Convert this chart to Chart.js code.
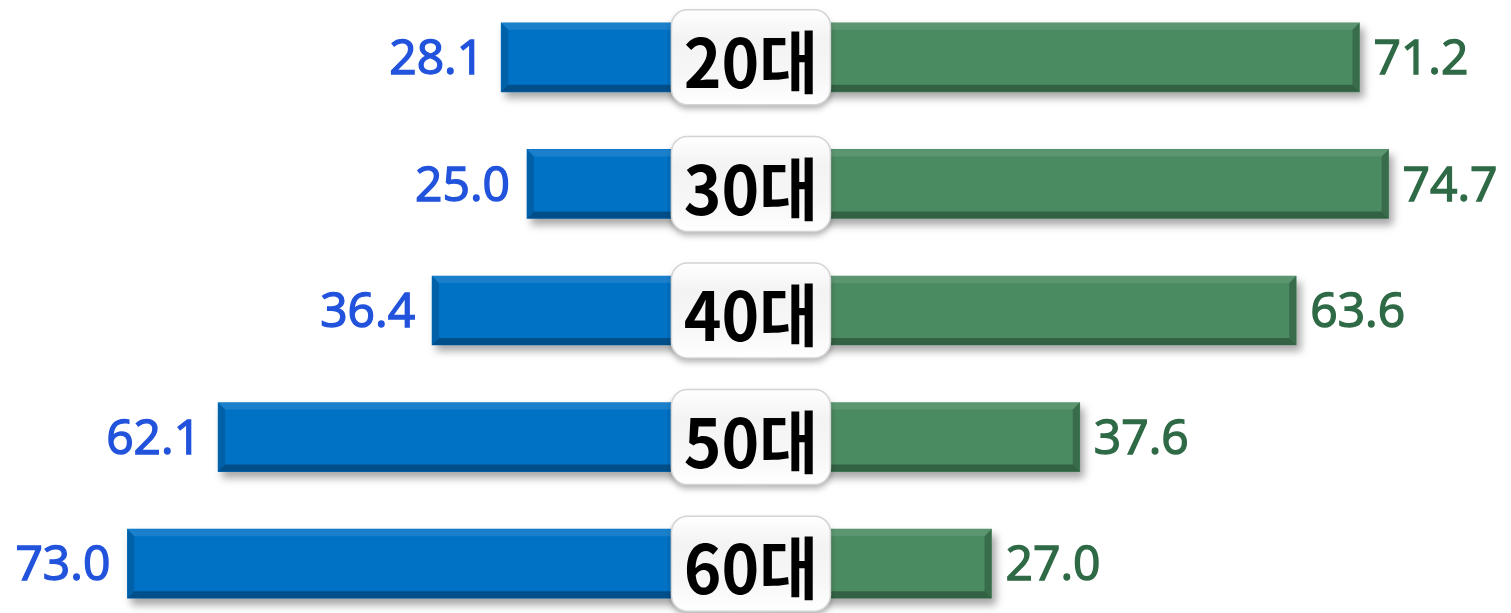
<!DOCTYPE html>
<html>
<head>
<meta charset="utf-8">
<script src="https://cdn.jsdelivr.net/npm/chart.js@4"></script>
<style>
  html, body { margin: 0; padding: 0; background: #fff; overflow: hidden; }
  #wrap { position: absolute; left: 0; top: -6px; width: 1511px; height: 633px; }
</style>
</head>
<body>
<div id="wrap"><canvas id="ageChart"></canvas></div>
<script>
const categories = ['20대', '30대', '40대', '50대', '60대'];
const leftValues = [28.1, 25.0, 36.4, 62.1, 73.0];
const rightValues = [71.2, 74.7, 63.6, 37.6, 27.0];
const centerGap = 1.9;

const blueColor = '#0072c6';
const greenColor = '#4a8b61';
const blueText = '#2253dc';
const greenText = '#2f6a46';

// drop shadow under the bars
const shadowPlugin = {
    id: 'barShadow',
    beforeDatasetsDraw(chart) {
        const ctx = chart.ctx;
        ctx.save();
        ctx.shadowColor = 'rgba(0, 0, 0, 0.35)';
        ctx.shadowBlur = 8;
        ctx.shadowOffsetX = 4;
        ctx.shadowOffsetY = 6;
    },
    afterDatasetsDraw(chart) {
        chart.ctx.restore();
    }
};

// bevel edges, centre label boxes and value labels
const decoPlugin = {
    id: 'deco',
    afterDatasetsDraw(chart) {
        const ctx = chart.ctx;
        const b = 7;
        chart.data.datasets.forEach((ds, di) => {
            chart.getDatasetMeta(di).data.forEach((bar, i) => {
                const p = bar.getProps(['x', 'y', 'base', 'height'], true);
                const l = Math.min(p.x, p.base), r = Math.max(p.x, p.base);
                const t = p.y - p.height / 2, btm = p.y + p.height / 2;
                const poly = (pts, c) => {
                    ctx.beginPath();
                    ctx.moveTo(pts[0][0], pts[0][1]);
                    pts.slice(1).forEach(q => ctx.lineTo(q[0], q[1]));
                    ctx.closePath();
                    ctx.fillStyle = c;
                    ctx.fill();
                };
                poly([[l, t], [r, t], [r - b, t + b], [l + b, t + b]], 'rgba(255,255,255,0.1)');
                poly([[l, btm], [r, btm], [r - b, btm - b], [l + b, btm - b]], 'rgba(0,0,0,0.3)');
                poly([[l, t], [l + b, t + b], [l + b, btm - b], [l, btm]], 'rgba(0,0,0,0.15)');
                poly([[r, t], [r - b, t + b], [r - b, btm - b], [r, btm]], 'rgba(0,0,0,0.22)');

                // value label
                ctx.save();
                ctx.font = '48px "Open Sans", "Noto Sans", sans-serif';
                ctx.textBaseline = 'middle';
                ctx.lineWidth = 1.4;
                const txt = di === 0 ? leftValues[i].toFixed(1) : rightValues[i].toFixed(1);
                let tx;
                if (di === 0) {
                    ctx.fillStyle = ctx.strokeStyle = blueText;
                    ctx.textAlign = 'right';
                    tx = l - 17;
                } else {
                    ctx.fillStyle = ctx.strokeStyle = greenText;
                    ctx.textAlign = 'left';
                    tx = r + 14;
                }
                ctx.fillText(txt, tx, p.y + 3);
                ctx.strokeText(txt, tx, p.y + 3);
                ctx.restore();
            });
        });

        // centre category boxes
        const cx = chart.scales.x.getPixelForValue(0);
        const bw = 159, bh = 95;
        categories.forEach((cat, i) => {
            const cy = chart.scales.y.getPixelForTick(i);
            const x0 = cx - bw / 2, y0 = cy - bh / 2;
            ctx.save();
            ctx.shadowColor = 'rgba(0,0,0,0.3)';
            ctx.shadowBlur = 6;
            ctx.shadowOffsetY = 4;
            const g = ctx.createLinearGradient(0, y0, 0, y0 + bh);
            g.addColorStop(0, '#ffffff');
            g.addColorStop(0.3, '#f3f3f3');
            g.addColorStop(0.7, '#f7f7f7');
            g.addColorStop(1, '#ffffff');
            ctx.beginPath();
            ctx.roundRect(x0, y0, bw, bh, 16);
            ctx.fillStyle = g;
            ctx.fill();
            ctx.restore();
            ctx.save();
            ctx.beginPath();
            ctx.roundRect(x0, y0, bw, bh, 16);
            ctx.strokeStyle = '#d4d4d4';
            ctx.lineWidth = 1.5;
            ctx.stroke();
            ctx.translate(cx, cy + 5);
            ctx.scale(1, 1.06);
            ctx.font = 'bold 64px "Noto Sans CJK KR", sans-serif';
            ctx.fillStyle = '#000';
            ctx.textAlign = 'center';
            ctx.textBaseline = 'middle';
            ctx.fillText(cat, 0, 0);
            ctx.restore();
        });
    }
};

new Chart(document.getElementById('ageChart').getContext('2d'), {
    type: 'bar',
    data: {
        labels: categories,
        datasets: [
            {
                label: 'left',
                data: leftValues.map(v => [-centerGap - v, -centerGap]),
                backgroundColor: blueColor,
                barThickness: 69,
                grouped: false
            },
            {
                label: 'right',
                data: rightValues.map(v => [centerGap, centerGap + v]),
                backgroundColor: greenColor,
                barThickness: 69,
                grouped: false
            }
        ]
    },
    options: {
        indexAxis: 'y',
        responsive: true,
        maintainAspectRatio: false,
        animation: false,
        layout: { padding: 0 },
        plugins: {
            legend: { display: false },
            tooltip: { enabled: false }
        },
        scales: {
            x: { display: false, min: -90.2, max: 91.3 },
            y: { display: false }
        }
    },
    plugins: [shadowPlugin, decoPlugin]
});
</script>
</body>
</html>
